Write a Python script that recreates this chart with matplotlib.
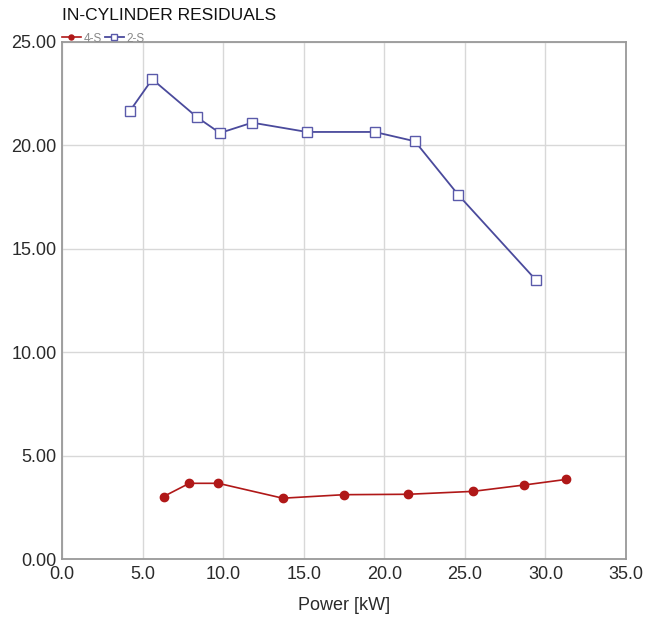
import matplotlib
matplotlib.use("Agg")
import matplotlib.pyplot as plt
from matplotlib.ticker import FormatStrFormatter, MultipleLocator

# Residual gas fraction vs. power for the two engine variants
power_4s = [6.3, 7.9, 9.7, 13.7, 17.5, 21.5, 25.5, 28.7, 31.3]
resid_4s = [3.02, 3.66, 3.66, 2.94, 3.11, 3.13, 3.27, 3.58, 3.85]

power_2s = [4.2, 5.6, 8.4, 9.8, 11.8, 15.2, 19.4, 21.9, 24.6, 29.4]
resid_2s = [21.65, 23.2, 21.35, 20.6, 21.1, 20.65, 20.65, 20.2, 17.6, 13.5]

plt.rcParams['font.family'] = ['Liberation Sans', 'DejaVu Sans']

fig = plt.figure(figsize=(6.46, 6.21), dpi=100)
ax = fig.add_axes([62 / 646, 1 - 559 / 621, (626 - 62) / 646, (559 - 42) / 621])

red = '#b01818'
blue = '#4a4a9c'
ax.plot(power_4s, resid_4s, '-o', color=red, lw=1.2, ms=6,
        markeredgecolor=red, label='4-S', zorder=3)
ax.plot(power_2s, resid_2s, '-s', color=blue, lw=1.3, ms=7,
        markerfacecolor='white', markeredgecolor='#5a5aaa', markeredgewidth=1.0,
        label='2-S', zorder=3)

ax.set_xlim(0, 35)
ax.set_ylim(0, 25)
ax.xaxis.set_major_locator(MultipleLocator(5))
ax.yaxis.set_major_locator(MultipleLocator(5))
ax.xaxis.set_major_formatter(FormatStrFormatter('%.1f'))
ax.yaxis.set_major_formatter(FormatStrFormatter('%.2f'))
ax.grid(True, color='#d8d8d8', lw=1.0)
ax.set_axisbelow(True)
ax.tick_params(length=0, labelsize=13, colors='#2a2a2a')
ax.tick_params(axis='x', pad=5)
ax.tick_params(axis='y', pad=4)
for s in ax.spines.values():
    s.set_color('#999999')
    s.set_linewidth(1.3)

ax.set_xlabel('Power [kW]', fontsize=13, color='#2a2a2a', labelpad=10)

fig.text(62 / 646, 1 - 16 / 621, 'IN-CYLINDER RESIDUALS', fontsize=12.5,
         color='#111111', va='center', ha='left')
ax.legend(loc='lower left', bbox_to_anchor=(0.0, 0.995), ncol=2, frameon=False,
          fontsize=8.5, handlelength=1.6, handletextpad=0.2, columnspacing=0.3,
          borderpad=0.0, borderaxespad=0.0, markerscale=0.6, labelcolor='#888888')

fig.savefig('out.png', dpi=100)
